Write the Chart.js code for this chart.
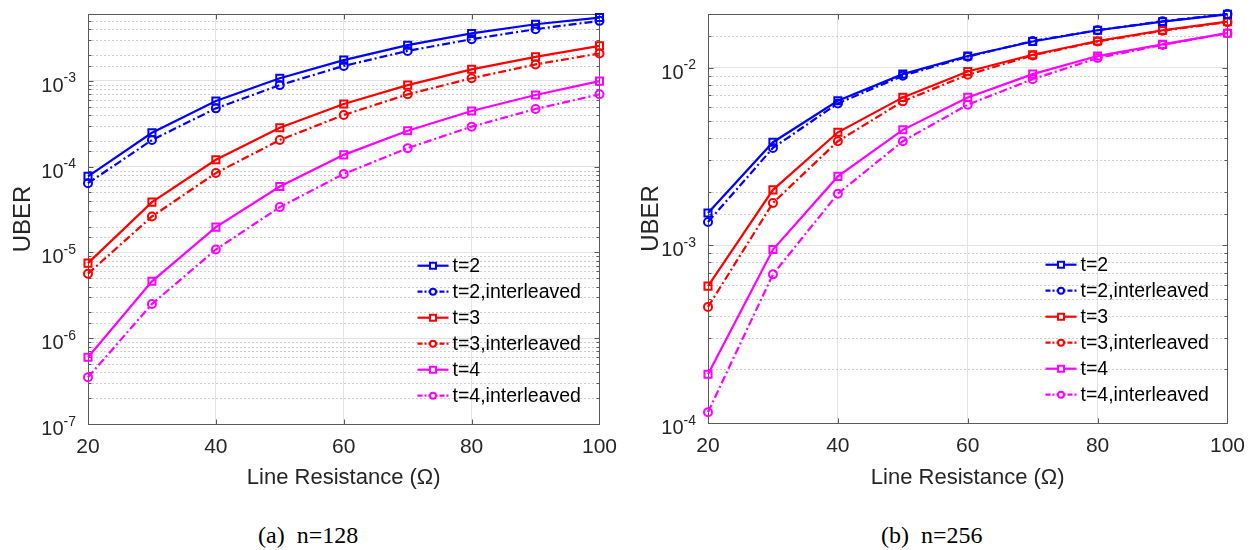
<!DOCTYPE html>
<html>
<head>
<meta charset="utf-8">
<script src="https://cdn.jsdelivr.net/npm/chart.js@4.4.1/dist/chart.umd.min.js"></script>
<style>
  html, body { margin: 0; padding: 0; background: #fff; }
  body { width: 1256px; height: 550px; overflow: hidden; position: relative; }
  .box { position: absolute; top: 0; width: 628px; height: 500px; }
  .cap { position: absolute; top: 523px; font-family: "Liberation Serif", "Times New Roman", Times, serif;
         font-size: 24px; line-height: 24px; color: #000; white-space: pre; }
</style>
</head>
<body>
<div class="box" style="left:0"><canvas id="chartA"></canvas></div>
<div class="box" style="left:628px"><canvas id="chartB"></canvas></div>
<div class="cap" style="left:258px">(a)  n=128</div>
<div class="cap" style="left:881px">(b)  n=256</div>
<script>
// ---------------- data ----------------
const resistance = [20, 30, 40, 50, 60, 70, 80, 90, 100];
const xTickValues = [20, 40, 60, 80, 100];
const seriesLabels = ['t=2', 't=2,interleaved', 't=3', 't=3,interleaved', 't=4', 't=4,interleaved'];

// (a) n=128
const n128_t2  = [7.7e-5, 2.48e-4, 5.8e-4, 1.07e-3, 1.74e-3, 2.6e-3, 3.56e-3, 4.56e-3, 5.45e-3];
const n128_t2i = [6.4e-5, 2.04e-4, 4.77e-4, 8.9e-4, 1.49e-3, 2.23e-3, 3.05e-3, 3.99e-3, 4.99e-3];
const n128_t3  = [7.5e-6, 3.85e-5, 1.2e-4, 2.84e-4, 5.36e-4, 8.9e-4, 1.36e-3, 1.9e-3, 2.55e-3];
const n128_t3i = [5.65e-6, 2.62e-5, 8.4e-5, 2.04e-4, 3.99e-4, 6.95e-4, 1.07e-3, 1.55e-3, 2.08e-3];
const n128_t4  = [6.0e-7, 4.6e-6, 1.97e-5, 5.85e-5, 1.37e-4, 2.62e-4, 4.45e-4, 6.82e-4, 9.9e-4];
const n128_t4i = [3.5e-7, 2.5e-6, 1.08e-5, 3.37e-5, 8.2e-5, 1.64e-4, 2.92e-4, 4.69e-4, 6.95e-4];

// (b) n=256
const n256_t2  = [1.52e-3, 3.8e-3, 6.5e-3, 9.18e-3, 1.16e-2, 1.40e-2, 1.62e-2, 1.81e-2, 1.99e-2];
const n256_t2i = [1.35e-3, 3.53e-3, 6.28e-3, 8.98e-3, 1.15e-2, 1.41e-2, 1.62e-2, 1.82e-2, 2.0e-2];
const n256_t3  = [5.89e-4, 2.05e-3, 4.32e-3, 6.79e-3, 9.5e-3, 1.18e-2, 1.41e-2, 1.62e-2, 1.81e-2];
const n256_t3i = [4.5e-4, 1.73e-3, 3.85e-3, 6.45e-3, 9.1e-3, 1.17e-2, 1.40e-2, 1.61e-2, 1.80e-2];
const n256_t4  = [1.88e-4, 9.46e-4, 2.44e-3, 4.46e-3, 6.79e-3, 9.18e-3, 1.16e-2, 1.35e-2, 1.56e-2];
const n256_t4i = [1.15e-4, 6.86e-4, 1.95e-3, 3.85e-3, 6.18e-3, 8.6e-3, 1.13e-2, 1.34e-2, 1.56e-2];

// ---------------- styles ----------------
const seriesColors = ['rgb(0,0,255)', 'rgb(0,0,255)', 'rgb(255,0,0)', 'rgb(255,0,0)', 'rgb(255,0,255)', 'rgb(255,0,255)'];
const seriesInterleaved = [false, true, false, true, false, true];
const DASH_DOT = [8, 3, 2, 3];
const SANS = '"Liberation Sans", Arial, Helvetica, sans-serif';
const AXIS_COLOR = '#5a5a5a';
const TEXT_COLOR = '#262626';

function isMajor(v) {
  const l = Math.log10(v);
  return Math.abs(l - Math.round(l)) < 1e-6;
}

const matlabAxes = {
  id: 'matlabAxes',
  beforeDatasetsDraw(chart) {
    const { ctx, chartArea: a, scales: { x, y } } = chart;
    ctx.save();
    // minor dotted grid
    ctx.strokeStyle = '#cfcfcf';
    ctx.lineWidth = 1;
    ctx.setLineDash([2, 2]);
    y.ticks.forEach(t => {
      if (isMajor(t.value)) return;
      const py = Math.round(y.getPixelForValue(t.value)) + 0.5;
      if (py < a.top + 2 || py > a.bottom - 2) return;
      ctx.beginPath(); ctx.moveTo(a.left, py); ctx.lineTo(a.right, py); ctx.stroke();
    });
    ctx.setLineDash([]);
    // box
    ctx.strokeStyle = AXIS_COLOR;
    ctx.lineWidth = 1;
    const L = Math.round(a.left) + 0.5, R = Math.round(a.right) + 0.5;
    const T = Math.round(a.top) + 0.5, B = Math.round(a.bottom) + 0.5;
    ctx.strokeRect(L, T, R - L, B - T);
    // inward ticks on y (left & right)
    y.ticks.forEach(t => {
      const py = Math.round(y.getPixelForValue(t.value)) + 0.5;
      if (py < a.top + 2 || py > a.bottom - 2) return;
      const len = isMajor(t.value) ? 5 : 3;
      ctx.beginPath();
      ctx.moveTo(L, py); ctx.lineTo(L + len, py);
      ctx.moveTo(R, py); ctx.lineTo(R - len, py);
      ctx.stroke();
    });
    // inward ticks on x (bottom & top)
    x.ticks.forEach(t => {
      const px = Math.round(x.getPixelForValue(t.value)) + 0.5;
      if (px < a.left + 2 || px > a.right - 2) return;
      ctx.beginPath();
      ctx.moveTo(px, B); ctx.lineTo(px, B - 5);
      ctx.moveTo(px, T); ctx.lineTo(px, T + 5);
      ctx.stroke();
    });
    ctx.restore();
  },
  afterDraw(chart) {
    const { ctx, chartArea: a, scales: { y } } = chart;
    ctx.save();
    // y tick labels 10^n
    ctx.fillStyle = TEXT_COLOR;
    y.ticks.forEach(t => {
      if (!isMajor(t.value)) return;
      const e = Math.round(Math.log10(t.value));
      const py = y.getPixelForValue(t.value);
      const exp = String(e);
      ctx.font = '14px ' + SANS;
      const we = ctx.measureText(exp).width;
      ctx.font = '20px ' + SANS;
      const wb = ctx.measureText('10').width;
      const right = a.left - 12;
      ctx.textAlign = 'left';
      ctx.textBaseline = 'alphabetic';
      ctx.fillText('10', right - we - wb, py + 11);
      ctx.font = '14px ' + SANS;
      ctx.fillText(exp, right - we, py + 1.5);
    });
    // legend
    const ds = chart.data.datasets;
    const n = ds.length;
    ds.forEach((d, i) => {
      const cy = a.bottom - 28.3 - (n - 1 - i) * 26;
      const x1 = a.right - 182, x2 = a.right - 151;
      ctx.strokeStyle = d.borderColor;
      ctx.lineWidth = 2.2;
      ctx.setLineDash(d.borderDash && d.borderDash.length ? [5, 2, 2, 2] : []);
      ctx.beginPath(); ctx.moveTo(x1, cy); ctx.lineTo(x2, cy); ctx.stroke();
      ctx.setLineDash([]);
      const mx = (x1 + x2) / 2;
      ctx.lineWidth = 2;
      ctx.beginPath();
      if (d.pointStyle === 'circle') {
        ctx.arc(mx, cy, 3, 0, Math.PI * 2);
      } else {
        ctx.rect(mx - 3, cy - 3, 6, 6);
      }
      ctx.fillStyle = '#fff';
      ctx.fill();
      ctx.stroke();
      ctx.fillStyle = '#000';
      ctx.font = '19.5px ' + SANS;
      ctx.textAlign = 'left';
      ctx.textBaseline = 'middle';
      ctx.fillText(d.label, x2 + 4, cy + 1);
    });
    ctx.restore();
  }
};

function makeChart(canvasId, values, yMin, yMax, geom) {
  const datasets = values.map((vals, k) => ({
    label: seriesLabels[k],
    data: resistance.map((r, i) => ({ x: r, y: vals[i] })),
    borderColor: seriesColors[k],
    backgroundColor: seriesColors[k],
    borderWidth: 2.2,
    borderDash: seriesInterleaved[k] ? DASH_DOT : [],
    pointStyle: seriesInterleaved[k] ? 'circle' : 'rect',
    pointRadius: seriesInterleaved[k] ? 4 : 5,
    pointHoverRadius: seriesInterleaved[k] ? 4 : 5,
    pointBorderWidth: 2,
    pointBorderColor: seriesColors[k],
    pointBackgroundColor: 'rgba(255,255,255,0)',
    tension: 0,
    fill: false,
    clip: false
  }));

  return new Chart(document.getElementById(canvasId), {
    type: 'line',
    data: { datasets },
    plugins: [matlabAxes],
    options: {
      responsive: true,
      maintainAspectRatio: false,
      animation: false,
      devicePixelRatio: 1,
      layout: { padding: { top: geom.top, right: geom.right, left: 0, bottom: 0 } },
      plugins: { legend: { display: false }, tooltip: { enabled: false } },
      scales: {
        x: {
          type: 'linear',
          min: 20, max: 100,
          afterBuildTicks: s => { s.ticks = xTickValues.map(v => ({ value: v })); },
          afterFit: s => { s.height = geom.xHeight; },
          grid: { color: '#e3e3e3', lineWidth: 1, drawTicks: false },
          border: { display: false },
          ticks: { font: { family: SANS, size: 21 }, color: TEXT_COLOR, padding: 11, maxRotation: 0 },
          title: { display: true, text: 'Line Resistance (Ω)', font: { family: SANS, size: 22 }, color: TEXT_COLOR,
                   padding: { top: 0, bottom: 9 } }
        },
        y: {
          type: 'logarithmic',
          min: yMin, max: yMax,
          afterFit: s => { s.width = geom.yWidth; },
          grid: {
            drawTicks: false,
            lineWidth: 1,
            color: c => (c.tick && isMajor(c.tick.value)) ? '#e3e3e3' : 'rgba(0,0,0,0)'
          },
          border: { display: false },
          ticks: { display: false, autoSkip: false },
          title: { display: true, text: 'UBER', font: { family: SANS, size: 24 }, color: TEXT_COLOR,
                   padding: { top: 9, bottom: 0 } }
        }
      }
    }
  });
}

makeChart('chartA', [n128_t2, n128_t2i, n128_t3, n128_t3i, n128_t4, n128_t4i], 1e-7, 6e-3,
  { top: 14, right: 20, yWidth: 88, xHeight: 76 });
makeChart('chartB', [n256_t2, n256_t2i, n256_t3, n256_t3i, n256_t4, n256_t4i], 1e-4, 2e-2,
  { top: 14, right: 28, yWidth: 80, xHeight: 77 });
</script>
</body>
</html>
